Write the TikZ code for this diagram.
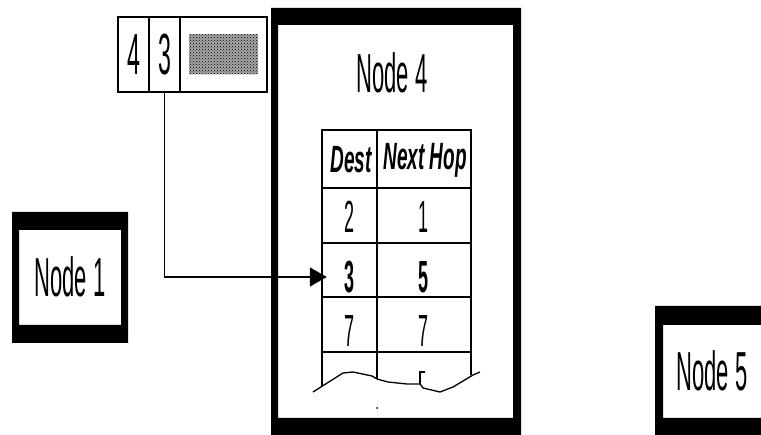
\documentclass[tikz,border=0pt]{standalone}
\usepackage{fontspec}
\setmainfont{Liberation Sans}[FakeStretch=0.4]
\newfontfamily\hdrfont{Liberation Sans}[FakeStretch=0.5]
\usetikzlibrary{arrows.meta, positioning, patterns}

\begin{document}
\begin{tikzpicture}[
  x=1pt, y=-1pt,
  frame/.style = {fill=black, even odd rule},
  title/.style = {inner sep=0pt, font=\fontsize{55}{60}\selectfont},
  cell/.style = {draw, line width=1.5pt, outer sep=0pt, inner sep=0pt,
                 minimum width=31pt, minimum height=75pt, font=\fontsize{58}{62}\selectfont},
  hdr/.style = {inner sep=0pt, font=\hdrfont\bfseries\itshape\fontsize{38}{42}\selectfont},
  entry/.style = {inner sep=0pt, font=\fontsize{45}{50}\selectfont},
  bentry/.style = {entry, font=\bfseries\fontsize{45}{50}\selectfont},
  tabline/.style = {line width=1.6pt},
  hop/.style = {line width=1.6pt, -{Triangle[length=17pt, width=19pt]}}
]
  \clip (0,0) rectangle (761,435);

  % node boxes (cut off at the picture edge)
  \fill[frame] (12,212) rectangle (128,343) (19,230) rectangle (121,325);
  \fill[frame] (271,8) rectangle (521,445) (278,25) rectangle (513,418);
  \fill[frame] (655,306) rectangle (780,445) (663,325) rectangle (772,418);

  \node[title] (node1) at (70,277) {Node 1};
  \node[title] (node4) at (392,73) {Node 4};
  \node[title] (node5) at (712,371) {Node 5};

  % packet header
  \node[cell] (pkt4) at (133.5,54.5) {4};
  \node[cell, right=0pt of pkt4] (pkt3) {3};
  \node[cell, minimum width=87pt, right=0pt of pkt3] (pktdata) {};
  \node[fill=black!35, postaction={pattern=crosshatch dots}, inner sep=0pt,
        minimum width=69pt, minimum height=40pt] (payload) at (pktdata) {};

  % routing table
  \draw[tabline] (322,386) -- (322,130) -- (471,130) -- (471,375);
  \draw[tabline] (377,130) -- (377,379);
  \foreach \y in {188,243,297,352}
    \draw[tabline] (322,\y) -- (471,\y);

  \node[hdr] (dest) at (351,160) {Dest};
  \node[hdr] (nexthop) at (425,160) {Next Hop};
  \node[entry] (dest2) at (349.5,217) {2};
  \node[entry] (hop2) at (424,217) {1};
  \node[bentry] (dest3) at (349.5,277) {3};
  \node[bentry] (hop3) at (424,277) {5};
  \node[entry] (dest7) at (349.5,331) {7};
  \node[entry] (hop7) at (424,331) {7};

  % torn bottom of the table
  \draw[line width=1.3pt] (313,392) -- (343,373) -- (353,372) -- (372,376) -- (377,379)
    -- (388,382) -- (407,384) -- (420,384) -- (423,388) -- (440,392) -- (453,387)
    -- (473,375) -- (480,372);
  \draw[line width=1.3pt] (420,384) -- (420,372) -- (425,372);
  \fill (377,408) circle (1pt);

  % lookup of the destination
  \draw[hop, shorten >=17.5pt] (pkt3.south) |- (dest3.west);
\end{tikzpicture}
\end{document}
